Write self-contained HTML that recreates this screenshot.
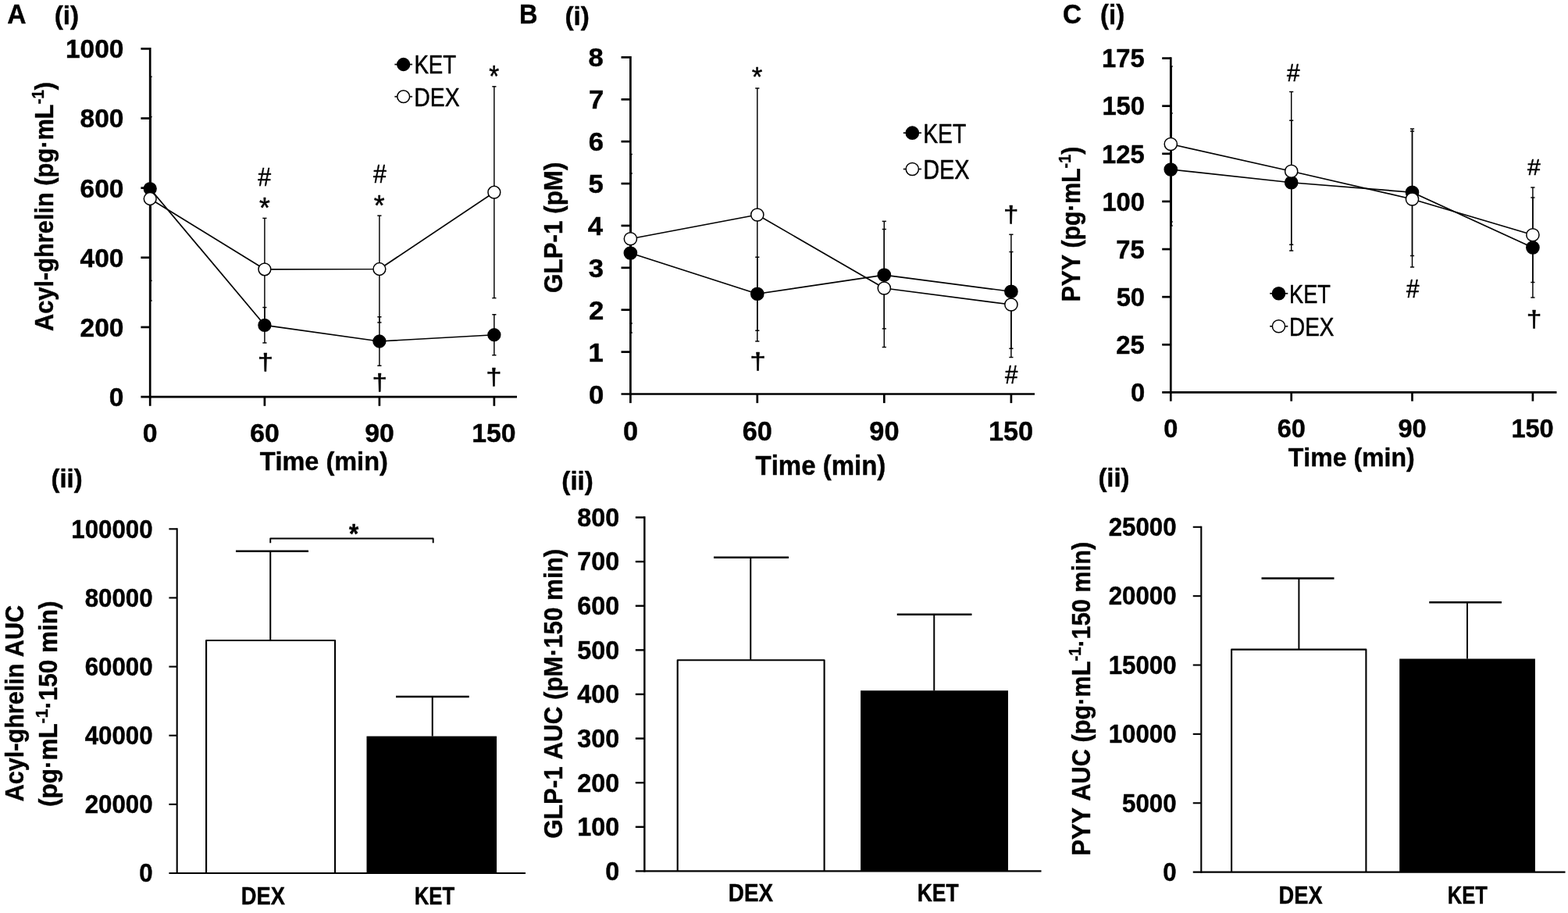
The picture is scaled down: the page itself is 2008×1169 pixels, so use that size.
<!DOCTYPE html>
<html lang="en">
<head>
<meta charset="utf-8">
<title>Figure: Acyl-ghrelin, GLP-1 and PYY responses (KET vs DEX)</title>
<style>
html,body{margin:0;padding:0;background:#fff;}
body{width:2008px;height:1169px;overflow:hidden;}
svg{display:block;}
svg text{font-family:"Liberation Sans",sans-serif;fill:#000;font-kerning:none;white-space:pre;}
svg text.b{font-weight:700;stroke:#000;stroke-width:0.44px;stroke-linejoin:round;}
svg text.r{font-weight:400;stroke:#000;stroke-width:0.5px;stroke-linejoin:round;}
svg path,svg circle,svg rect{stroke:#000;}
</style>
</head>
<body>
<svg role="img" aria-label="Acyl-ghrelin, GLP-1 and PYY time courses and AUC for KET and DEX" width="2008" height="1169" viewBox="0 0 2008 1169">
<rect x="0" y="0" width="2008" height="1169" fill="#fff" style="stroke:none"/>
<g>
<text class="b" font-size="34.75" transform="matrix(0.9682 0 0 1 9.28 29.88)">A</text>
<text class="b" font-size="34.39" transform="matrix(0.9457 0 0 1 664.88 29.88)">B</text>
<text class="b" font-size="35.04" transform="matrix(0.9507 0 0 1 1360.89 30.44)">C</text>
<text class="b" font-size="33.91" transform="matrix(0.9804 0 0 1 69.76 30.54)">(i)</text>
<text class="b" font-size="33.97" transform="matrix(0.9789 0 0 1 723.46 32.23)">(i)</text>
<text class="b" font-size="34.23" transform="matrix(0.9645 0 0 1 1409.07 30.78)">(i)</text>
<text class="b" font-size="33.64" transform="matrix(0.9741 0 0 1 65.58 624.1)">(ii)</text>
<text class="b" font-size="33.86" transform="matrix(0.9784 0 0 1 719.37 626.75)">(ii)</text>
<text class="b" font-size="33.91" transform="matrix(0.9691 0 0 1 1406.38 622.94)">(ii)</text>
</g>
<g>
<path d="M193 98.2L193 385" stroke-width="1.45"/>
<path d="M191.3 98.2L194.7 98.2" stroke-width="1.45"/>
<path d="M191.3 385L194.7 385" stroke-width="1.45"/>
<path d="M338.9 393.6L338.9 439" stroke-width="1.45"/>
<path d="M336.3 393.6L341.5 393.6" stroke-width="1.45"/>
<path d="M336.3 439L341.5 439" stroke-width="1.45"/>
<path d="M485.9 405.75L485.9 468.25" stroke-width="1.45"/>
<path d="M483.3 405.75L488.5 405.75" stroke-width="1.45"/>
<path d="M483.3 468.25L488.5 468.25" stroke-width="1.45"/>
<path d="M632.85 402.75L632.85 454.75" stroke-width="1.45"/>
<path d="M630.25 402.75L635.45 402.75" stroke-width="1.45"/>
<path d="M630.25 454.75L635.45 454.75" stroke-width="1.45"/>
<path d="M193 149.6L193 359.4" stroke-width="1.45"/>
<path d="M191.3 149.6L194.7 149.6" stroke-width="1.45"/>
<path d="M191.3 359.4L194.7 359.4" stroke-width="1.45"/>
<path d="M338.9 279.4L338.9 410.2" stroke-width="1.45"/>
<path d="M336.3 279.4L341.5 279.4" stroke-width="1.45"/>
<path d="M336.3 410.2L341.5 410.2" stroke-width="1.45"/>
<path d="M485.9 276.1L485.9 412.9" stroke-width="1.45"/>
<path d="M483.3 276.1L488.5 276.1" stroke-width="1.45"/>
<path d="M483.3 412.9L488.5 412.9" stroke-width="1.45"/>
<path d="M632.85 110.8L632.85 381.6" stroke-width="1.45"/>
<path d="M630.25 110.8L635.45 110.8" stroke-width="1.45"/>
<path d="M630.25 381.6L635.45 381.6" stroke-width="1.45"/>
<path d="M192.2 61.05L192.2 509.4" stroke-width="2.7"/>
<path d="M180.4 62.4L192.2 62.4" stroke-width="2.7"/>
<path d="M180.4 151.53L192.2 151.53" stroke-width="2.7"/>
<path d="M180.4 240.66L192.2 240.66" stroke-width="2.7"/>
<path d="M180.4 329.79L192.2 329.79" stroke-width="2.7"/>
<path d="M180.4 418.92L192.2 418.92" stroke-width="2.7"/>
<path d="M180.4 508.05L662 508.05" stroke-width="2.7"/>
<path d="M192.2 508.05L192.2 519.8" stroke-width="2.7"/>
<path d="M338.9 508.05L338.9 519.8" stroke-width="2.7"/>
<path d="M485.9 508.05L485.9 519.8" stroke-width="2.7"/>
<path d="M632.85 508.05L632.85 519.8" stroke-width="2.7"/>
<path d="M192.2 241.6L338.9 416.3L485.9 437L632.85 428.75" stroke-width="1.7" fill="none" stroke-linejoin="round"/>
<circle cx="192.2" cy="241.6" r="7.9" fill="#000" stroke-width="1.5"/>
<circle cx="338.9" cy="416.3" r="7.9" fill="#000" stroke-width="1.5"/>
<circle cx="485.9" cy="437" r="7.9" fill="#000" stroke-width="1.5"/>
<circle cx="632.85" cy="428.75" r="7.9" fill="#000" stroke-width="1.5"/>
<path d="M192.2 254.5L338.9 344.8L485.9 344.5L632.85 246.2" stroke-width="1.7" fill="none" stroke-linejoin="round"/>
<circle cx="192.2" cy="254.5" r="7.9" fill="#fff" stroke-width="1.5"/>
<circle cx="338.9" cy="344.8" r="7.9" fill="#fff" stroke-width="1.5"/>
<circle cx="485.9" cy="344.5" r="7.9" fill="#fff" stroke-width="1.5"/>
<circle cx="632.85" cy="246.2" r="7.9" fill="#fff" stroke-width="1.5"/>
</g>
<g>
<path d="M505.4 82.5L528.1 82.5" stroke-width="1.7"/>
<circle cx="516.7" cy="82.5" r="7.9" fill="#000" stroke-width="1.5"/>
<path d="M505.4 123.7L528.1 123.7" stroke-width="1.7"/>
<circle cx="516.7" cy="123.7" r="7.9" fill="#fff" stroke-width="1.5"/>
<text class="r" font-size="33.43" transform="matrix(0.8281 0 0 1 530.39 94.15)">KET</text>
<text class="r" font-size="34.01" transform="matrix(0.833 0 0 1 530.33 135.65)">DEX</text>
</g>
<g>
<text class="b" font-size="33.84" transform="matrix(0.9902 0 0 1 83.91 74.35)">1000</text>
<text class="b" font-size="33.84" transform="matrix(0.9902 0 0 1 102.54 163.48)">800</text>
<text class="b" font-size="33.84" transform="matrix(0.9902 0 0 1 102.54 252.61)">600</text>
<text class="b" font-size="33.84" transform="matrix(0.9902 0 0 1 102.54 341.74)">400</text>
<text class="b" font-size="33.84" transform="matrix(0.9902 0 0 1 102.54 430.87)">200</text>
<text class="b" font-size="33.84" transform="matrix(0.9902 0 0 1 139.82 520)">0</text>
</g>
<g>
<text class="b" font-size="33.84" transform="matrix(0.9984 0 0 1 182.83 566.25)">0</text>
<text class="b" font-size="33.84" transform="matrix(0.9984 0 0 1 320.18 566.25)">60</text>
<text class="b" font-size="33.84" transform="matrix(0.9984 0 0 1 467.22 566.25)">90</text>
<text class="b" font-size="33.84" transform="matrix(0.9984 0 0 1 604.29 566.25)">150</text>
</g>
<text class="b" font-size="33.49" transform="matrix(0 -0.9194 1 0 68.38 424.06)">Acyl-ghrelin (pg·mL<tspan font-size="22.1" dy="-12.05">-1</tspan><tspan dy="12.05">)</tspan></text>
<text class="b" font-size="34.07" transform="matrix(0.9536 0 0 1 332.64 602.41)">Time (min)</text>
<g>
<text class="r" font-size="33.77" transform="matrix(0.8963 0 0 1 330.19 238.05)">#</text>
<text class="r" font-size="33.62" transform="matrix(0.9001 0 0 1 478.09 234.15)">#</text>
<text class="r" font-size="36.17" transform="matrix(0.9829 0 0 1 331.97 278.74)">*</text>
<text class="r" font-size="37.6" transform="matrix(0.947 0 0 1 478.76 275.92)">*</text>
<text class="r" font-size="38.17" transform="matrix(0.8697 0 0 1 626.18 111.01)">*</text>
<text class="r" font-size="29.67" transform="matrix(1.2291 0 0 1 329.85 473.75)">†</text>
<text class="r" font-size="30.3" transform="matrix(1.1517 0 0 1 476.44 499.51)">†</text>
<text class="r" font-size="30.18" transform="matrix(1.2093 0 0 1 622.34 492.62)">†</text>
</g>
<g>
<path d="M808.2 222L808.2 426" stroke-width="1.45"/>
<path d="M806.5 222L809.9 222" stroke-width="1.45"/>
<path d="M806.5 426L809.9 426" stroke-width="1.45"/>
<path d="M969.8 329.25L969.8 423.25" stroke-width="1.45"/>
<path d="M967.2 329.25L972.4 329.25" stroke-width="1.45"/>
<path d="M967.2 423.25L972.4 423.25" stroke-width="1.45"/>
<path d="M1132.3 283.35L1132.3 420.85" stroke-width="1.45"/>
<path d="M1129.7 283.35L1134.9 283.35" stroke-width="1.45"/>
<path d="M1129.7 420.85L1134.9 420.85" stroke-width="1.45"/>
<path d="M1294.9 300.25L1294.9 446.25" stroke-width="1.45"/>
<path d="M1292.3 300.25L1297.5 300.25" stroke-width="1.45"/>
<path d="M1292.3 446.25L1297.5 446.25" stroke-width="1.45"/>
<path d="M808.2 197.5L808.2 414" stroke-width="1.45"/>
<path d="M806.5 197.5L809.9 197.5" stroke-width="1.45"/>
<path d="M806.5 414L809.9 414" stroke-width="1.45"/>
<path d="M969.8 113L969.8 437" stroke-width="1.45"/>
<path d="M967.2 113L972.4 113" stroke-width="1.45"/>
<path d="M967.2 437L972.4 437" stroke-width="1.45"/>
<path d="M1132.3 293.5L1132.3 444.5" stroke-width="1.45"/>
<path d="M1129.7 293.5L1134.9 293.5" stroke-width="1.45"/>
<path d="M1129.7 444.5L1134.9 444.5" stroke-width="1.45"/>
<path d="M1294.9 322.5L1294.9 457.5" stroke-width="1.45"/>
<path d="M1292.3 322.5L1297.5 322.5" stroke-width="1.45"/>
<path d="M1292.3 457.5L1297.5 457.5" stroke-width="1.45"/>
<path d="M807.4 72.05L807.4 505.85" stroke-width="2.7"/>
<path d="M795.5 73.4L807.4 73.4" stroke-width="2.7"/>
<path d="M795.5 127.29L807.4 127.29" stroke-width="2.7"/>
<path d="M795.5 181.18L807.4 181.18" stroke-width="2.7"/>
<path d="M795.5 235.06L807.4 235.06" stroke-width="2.7"/>
<path d="M795.5 288.95L807.4 288.95" stroke-width="2.7"/>
<path d="M795.5 342.84L807.4 342.84" stroke-width="2.7"/>
<path d="M795.5 396.73L807.4 396.73" stroke-width="2.7"/>
<path d="M795.5 450.61L807.4 450.61" stroke-width="2.7"/>
<path d="M795.5 504.5L1325 504.5" stroke-width="2.7"/>
<path d="M807.4 504.5L807.4 516.1" stroke-width="2.7"/>
<path d="M969.8 504.5L969.8 516.1" stroke-width="2.7"/>
<path d="M1132.3 504.5L1132.3 516.1" stroke-width="2.7"/>
<path d="M1294.9 504.5L1294.9 516.1" stroke-width="2.7"/>
<path d="M807.4 324L969.8 376.25L1132.3 352.1L1294.9 373.25" stroke-width="1.7" fill="none" stroke-linejoin="round"/>
<circle cx="807.4" cy="324" r="8.1" fill="#000" stroke-width="1.5"/>
<circle cx="969.8" cy="376.25" r="8.1" fill="#000" stroke-width="1.5"/>
<circle cx="1132.3" cy="352.1" r="8.1" fill="#000" stroke-width="1.5"/>
<circle cx="1294.9" cy="373.25" r="8.1" fill="#000" stroke-width="1.5"/>
<path d="M807.4 305.75L969.8 275L1132.3 369L1294.9 390" stroke-width="1.7" fill="none" stroke-linejoin="round"/>
<circle cx="807.4" cy="305.75" r="8.1" fill="#fff" stroke-width="1.5"/>
<circle cx="969.8" cy="275" r="8.1" fill="#fff" stroke-width="1.5"/>
<circle cx="1132.3" cy="369" r="8.1" fill="#fff" stroke-width="1.5"/>
<circle cx="1294.9" cy="390" r="8.1" fill="#fff" stroke-width="1.5"/>
</g>
<g>
<path d="M1156.8 170.2L1180 170.2" stroke-width="1.7"/>
<circle cx="1168.3" cy="170.2" r="8.1" fill="#000" stroke-width="1.5"/>
<path d="M1156.8 216.5L1180 216.5" stroke-width="1.7"/>
<circle cx="1168.3" cy="216.5" r="8.1" fill="#fff" stroke-width="1.5"/>
<text class="r" font-size="34.16" transform="matrix(0.8288 0 0 1 1182.18 182.75)">KET</text>
<text class="r" font-size="34.59" transform="matrix(0.8345 0 0 1 1182.14 229.05)">DEX</text>
</g>
<g>
<text class="b" font-size="33.84" transform="matrix(1.0265 0 0 1 753.62 85.45)">8</text>
<text class="b" font-size="33.84" transform="matrix(1.0265 0 0 1 754.08 139.33)">7</text>
<text class="b" font-size="33.84" transform="matrix(1.0265 0 0 1 753.81 193.22)">6</text>
<text class="b" font-size="33.84" transform="matrix(1.0265 0 0 1 753.52 246.94)">5</text>
<text class="b" font-size="33.84" transform="matrix(1.0265 0 0 1 752.74 300.99)">4</text>
<text class="b" font-size="33.84" transform="matrix(1.0265 0 0 1 753.81 354.86)">3</text>
<text class="b" font-size="33.84" transform="matrix(1.0265 0 0 1 753.95 408.94)">2</text>
<text class="b" font-size="33.84" transform="matrix(1.0265 0 0 1 753.52 462.65)">1</text>
<text class="b" font-size="33.84" transform="matrix(1.0265 0 0 1 753.98 516.55)">0</text>
</g>
<g>
<text class="b" font-size="35.82" transform="matrix(0.9573 0 0 1 797.89 564.33)">0</text>
<text class="b" font-size="35.82" transform="matrix(0.9573 0 0 1 950.8 564.33)">60</text>
<text class="b" font-size="35.82" transform="matrix(0.9573 0 0 1 1113.34 564.33)">90</text>
<text class="b" font-size="35.82" transform="matrix(0.9573 0 0 1 1265.92 564.33)">150</text>
</g>
<text class="b" font-size="33.64" transform="matrix(0 -0.9339 1 0 720 374.98)">GLP-1 (pM)</text>
<text class="b" font-size="34.82" transform="matrix(0.948 0 0 1 967.54 607.65)">Time (min)</text>
<g>
<text class="r" font-size="35.61" transform="matrix(0.9829 0 0 1 962.68 109.75)">*</text>
<text class="r" font-size="29.67" transform="matrix(1.2483 0 0 1 960.32 472.75)">†</text>
<text class="r" font-size="30.18" transform="matrix(1.1564 0 0 1 1284.94 285.22)">†</text>
<text class="r" font-size="32.53" transform="matrix(0.9023 0 0 1 1287.1 490.5)">#</text>
</g>
<g>
<path d="M1500.1 145L1500.1 289" stroke-width="1.45"/>
<path d="M1498.4 145L1501.8 145" stroke-width="1.45"/>
<path d="M1498.4 289L1501.8 289" stroke-width="1.45"/>
<path d="M1653.7 154.25L1653.7 313.25" stroke-width="1.45"/>
<path d="M1651.1 154.25L1656.3 154.25" stroke-width="1.45"/>
<path d="M1651.1 313.25L1656.3 313.25" stroke-width="1.45"/>
<path d="M1808.5 165L1808.5 327.5" stroke-width="1.45"/>
<path d="M1805.9 165L1811.1 165" stroke-width="1.45"/>
<path d="M1805.9 327.5L1811.1 327.5" stroke-width="1.45"/>
<path d="M1962.9 253L1962.9 381" stroke-width="1.45"/>
<path d="M1960.3 253L1965.5 253" stroke-width="1.45"/>
<path d="M1960.3 381L1965.5 381" stroke-width="1.45"/>
<path d="M1500.1 85L1500.1 284" stroke-width="1.45"/>
<path d="M1498.4 85L1501.8 85" stroke-width="1.45"/>
<path d="M1498.4 284L1501.8 284" stroke-width="1.45"/>
<path d="M1653.7 117.5L1653.7 321" stroke-width="1.45"/>
<path d="M1651.1 117.5L1656.3 117.5" stroke-width="1.45"/>
<path d="M1651.1 321L1656.3 321" stroke-width="1.45"/>
<path d="M1808.5 168L1808.5 342" stroke-width="1.45"/>
<path d="M1805.9 168L1811.1 168" stroke-width="1.45"/>
<path d="M1805.9 342L1811.1 342" stroke-width="1.45"/>
<path d="M1962.9 240L1962.9 361.5" stroke-width="1.45"/>
<path d="M1960.3 240L1965.5 240" stroke-width="1.45"/>
<path d="M1960.3 361.5L1965.5 361.5" stroke-width="1.45"/>
<path d="M1499.3 73.25L1499.3 503.75" stroke-width="2.7"/>
<path d="M1488.2 74.6L1499.3 74.6" stroke-width="2.7"/>
<path d="M1488.2 135.71L1499.3 135.71" stroke-width="2.7"/>
<path d="M1488.2 196.83L1499.3 196.83" stroke-width="2.7"/>
<path d="M1488.2 257.94L1499.3 257.94" stroke-width="2.7"/>
<path d="M1488.2 319.06L1499.3 319.06" stroke-width="2.7"/>
<path d="M1488.2 380.17L1499.3 380.17" stroke-width="2.7"/>
<path d="M1488.2 441.29L1499.3 441.29" stroke-width="2.7"/>
<path d="M1488.2 502.4L1993.5 502.4" stroke-width="2.7"/>
<path d="M1499.3 502.4L1499.3 513.7" stroke-width="2.7"/>
<path d="M1653.7 502.4L1653.7 513.7" stroke-width="2.7"/>
<path d="M1808.5 502.4L1808.5 513.7" stroke-width="2.7"/>
<path d="M1962.9 502.4L1962.9 513.7" stroke-width="2.7"/>
<path d="M1499.3 217L1653.7 233.75L1808.5 246.25L1962.9 317" stroke-width="1.7" fill="none" stroke-linejoin="round"/>
<circle cx="1499.3" cy="217" r="8.1" fill="#000" stroke-width="1.5"/>
<circle cx="1653.7" cy="233.75" r="8.1" fill="#000" stroke-width="1.5"/>
<circle cx="1808.5" cy="246.25" r="8.1" fill="#000" stroke-width="1.5"/>
<circle cx="1962.9" cy="317" r="8.1" fill="#000" stroke-width="1.5"/>
<path d="M1499.3 184.5L1653.7 219.25L1808.5 255L1962.9 300.75" stroke-width="1.7" fill="none" stroke-linejoin="round"/>
<circle cx="1499.3" cy="184.5" r="8.1" fill="#fff" stroke-width="1.5"/>
<circle cx="1653.7" cy="219.25" r="8.1" fill="#fff" stroke-width="1.5"/>
<circle cx="1808.5" cy="255" r="8.1" fill="#fff" stroke-width="1.5"/>
<circle cx="1962.9" cy="300.75" r="8.1" fill="#fff" stroke-width="1.5"/>
</g>
<g>
<path d="M1626.2 375.75L1649.3 375.75" stroke-width="1.7"/>
<circle cx="1637.5" cy="375.75" r="8.1" fill="#000" stroke-width="1.5"/>
<path d="M1626.2 417.75L1649.3 417.75" stroke-width="1.7"/>
<circle cx="1637.5" cy="417.75" r="8.1" fill="#fff" stroke-width="1.5"/>
<text class="r" font-size="33.43" transform="matrix(0.8144 0 0 1 1651.07 388.15)">KET</text>
<text class="r" font-size="33.43" transform="matrix(0.8344 0 0 1 1651.02 429.75)">DEX</text>
</g>
<g>
<text class="b" font-size="33.62" transform="matrix(0.976 0 0 1 1410.95 86.1)">175</text>
<text class="b" font-size="33.62" transform="matrix(0.976 0 0 1 1411.38 147.39)">150</text>
<text class="b" font-size="33.62" transform="matrix(0.976 0 0 1 1410.95 208.5)">125</text>
<text class="b" font-size="33.62" transform="matrix(0.976 0 0 1 1411.38 269.62)">100</text>
<text class="b" font-size="33.62" transform="matrix(0.976 0 0 1 1429.2 330.56)">75</text>
<text class="b" font-size="33.62" transform="matrix(0.976 0 0 1 1429.63 391.85)">50</text>
<text class="b" font-size="33.62" transform="matrix(0.976 0 0 1 1429.2 452.96)">25</text>
<text class="b" font-size="33.62" transform="matrix(0.976 0 0 1 1447.88 514.07)">0</text>
</g>
<g>
<text class="b" font-size="33.98" transform="matrix(0.9578 0 0 1 1490.27 559.85)">0</text>
<text class="b" font-size="33.98" transform="matrix(0.9578 0 0 1 1635.67 559.85)">60</text>
<text class="b" font-size="33.98" transform="matrix(0.9578 0 0 1 1790.5 559.85)">90</text>
<text class="b" font-size="33.98" transform="matrix(0.9578 0 0 1 1935.39 559.85)">150</text>
</g>
<text class="b" font-size="33.49" transform="matrix(0 -0.9011 1 0 1383.38 386.32)">PYY (pg·mL<tspan font-size="22.1" dy="-12.05">-1</tspan><tspan dy="12.05">)</tspan></text>
<text class="b" font-size="33.64" transform="matrix(0.9527 0 0 1 1649.75 597)">Time (min)</text>
<g>
<text class="r" font-size="31.06" transform="matrix(0.9578 0 0 1 1648.11 104)">#</text>
<text class="r" font-size="30.33" transform="matrix(0.9948 0 0 1 1956.12 223.5)">#</text>
<text class="r" font-size="32.74" transform="matrix(0.9018 0 0 1 1801 381.25)">#</text>
<text class="r" font-size="28.73" transform="matrix(1.2284 0 0 1 1954.68 419.31)">†</text>
</g>
<g>
<path d="M346.25 705.75L346.25 819.3" stroke-width="2"/>
<path d="M302 705.75L395 705.75" stroke-width="2.5"/>
<path d="M553.75 892L553.75 942.65" stroke-width="2"/>
<path d="M507 892L600.75 892" stroke-width="2.5"/>
<path d="M264.1 1118L264.1 820L429.05 820L429.05 1118" fill="#fff" stroke-width="2.1" stroke-linejoin="round"/>
<rect x="469.5" y="942.65" width="166.55" height="175.35" fill="#000" stroke-width="0"/>
<path d="M226.7 676.25L226.7 1119.05" stroke-width="2.1"/>
<path d="M216.4 677.3L226.7 677.3" stroke-width="2.1"/>
<path d="M216.4 765.44L226.7 765.44" stroke-width="2.1"/>
<path d="M216.4 853.58L226.7 853.58" stroke-width="2.1"/>
<path d="M216.4 941.72L226.7 941.72" stroke-width="2.1"/>
<path d="M216.4 1029.86L226.7 1029.86" stroke-width="2.1"/>
<path d="M216.4 1118L673 1118" stroke-width="2.1"/>
</g>
<path d="M346.25 695.2L346.25 689.5L554.7 689.5L554.7 695.2" stroke-width="1.9" fill="none" stroke-linejoin="round"/>
<text class="b" font-size="34.29" transform="matrix(0.9156 0 0 1 446.91 694.81)">*</text>
<g>
<text class="b" font-size="32.57" transform="matrix(0.9609 0 0 1 91.24 688.51)">100000</text>
<text class="b" font-size="32.57" transform="matrix(0.9609 0 0 1 108.65 776.65)">80000</text>
<text class="b" font-size="32.57" transform="matrix(0.9609 0 0 1 108.65 864.79)">60000</text>
<text class="b" font-size="32.57" transform="matrix(0.9609 0 0 1 108.65 952.93)">40000</text>
<text class="b" font-size="32.57" transform="matrix(0.9609 0 0 1 108.65 1041.07)">20000</text>
<text class="b" font-size="32.57" transform="matrix(0.9609 0 0 1 178.27 1129.21)">0</text>
</g>
<g>
<text class="b" font-size="31.48" transform="matrix(0.8664 0 0 1 308.87 1157.68)">DEX</text>
<text class="b" font-size="31.48" transform="matrix(0.8185 0 0 1 530.76 1157.68)">KET</text>
</g>
<text class="b" font-size="33.38" transform="matrix(0 -0.9155 1 0 29.81 1026.26)">Acyl-ghrelin AUC</text>
<text class="b" font-size="33.38" transform="matrix(0 -0.9438 1 0 72.91 1032.96)">(pg·mL<tspan font-size="22.03" dy="-12.02">-1</tspan><tspan dy="12.02">·150 min)</tspan></text>
<g>
<path d="M961.25 713.75L961.25 844.6" stroke-width="2"/>
<path d="M914 713.75L1010 713.75" stroke-width="2.5"/>
<path d="M1196.25 786.75L1196.25 884.2" stroke-width="2"/>
<path d="M1148.75 786.75L1244.5 786.75" stroke-width="2.5"/>
<path d="M867.7 1115.4L867.7 845.3L1055.6 845.3L1055.6 1115.4" fill="#fff" stroke-width="2.1" stroke-linejoin="round"/>
<rect x="1102.1" y="884.2" width="188.9" height="231.2" fill="#000" stroke-width="0"/>
<path d="M825.35 661.3L825.35 1116.6" stroke-width="2.4"/>
<path d="M813.8 662.5L825.35 662.5" stroke-width="2.4"/>
<path d="M813.8 719.11L825.35 719.11" stroke-width="2.4"/>
<path d="M813.8 775.73L825.35 775.73" stroke-width="2.4"/>
<path d="M813.8 832.34L825.35 832.34" stroke-width="2.4"/>
<path d="M813.8 888.95L825.35 888.95" stroke-width="2.4"/>
<path d="M813.8 945.56L825.35 945.56" stroke-width="2.4"/>
<path d="M813.8 1002.18L825.35 1002.18" stroke-width="2.4"/>
<path d="M813.8 1058.79L825.35 1058.79" stroke-width="2.4"/>
<path d="M813.8 1115.4L1333.5 1115.4" stroke-width="2.4"/>
</g>
<g>
<text class="b" font-size="32.64" transform="matrix(0.99 0 0 1 739.29 673.84)">800</text>
<text class="b" font-size="32.64" transform="matrix(0.99 0 0 1 739.29 730.45)">700</text>
<text class="b" font-size="32.64" transform="matrix(0.99 0 0 1 739.29 787.06)">600</text>
<text class="b" font-size="32.64" transform="matrix(0.99 0 0 1 739.29 843.67)">500</text>
<text class="b" font-size="32.64" transform="matrix(0.99 0 0 1 739.29 900.29)">400</text>
<text class="b" font-size="32.64" transform="matrix(0.99 0 0 1 739.29 956.87)">300</text>
<text class="b" font-size="32.64" transform="matrix(0.99 0 0 1 739.29 1013.51)">200</text>
<text class="b" font-size="32.64" transform="matrix(0.99 0 0 1 739.29 1070.12)">100</text>
<text class="b" font-size="32.64" transform="matrix(0.99 0 0 1 775.24 1126.74)">0</text>
</g>
<g>
<text class="b" font-size="31.34" transform="matrix(0.888 0 0 1 932.83 1153.78)">DEX</text>
<text class="b" font-size="31.34" transform="matrix(0.8446 0 0 1 1174.67 1153.78)">KET</text>
</g>
<text class="b" font-size="33.86" transform="matrix(0 -0.9258 1 0 719.75 1073.58)">GLP-1 AUC (pM·150 min)</text>
<g>
<path d="M1663.4 740.6L1663.4 830.95" stroke-width="2"/>
<path d="M1615.5 740.6L1708.5 740.6" stroke-width="2.5"/>
<path d="M1879 771.25L1879 843.5" stroke-width="2"/>
<path d="M1830.25 771.25L1923 771.25" stroke-width="2.5"/>
<path d="M1577.1 1116.6L1577.1 831.65L1749.4 831.65L1749.4 1116.6" fill="#fff" stroke-width="2.1" stroke-linejoin="round"/>
<rect x="1792.2" y="843.5" width="173.7" height="273.1" fill="#000" stroke-width="0"/>
<path d="M1538.3 673.75L1538.3 1117.65" stroke-width="2.1"/>
<path d="M1527.75 674.8L1538.3 674.8" stroke-width="2.1"/>
<path d="M1527.75 763.16L1538.3 763.16" stroke-width="2.1"/>
<path d="M1527.75 851.52L1538.3 851.52" stroke-width="2.1"/>
<path d="M1527.75 939.88L1538.3 939.88" stroke-width="2.1"/>
<path d="M1527.75 1028.24L1538.3 1028.24" stroke-width="2.1"/>
<path d="M1527.75 1116.6L2004.5 1116.6" stroke-width="2.1"/>
</g>
<g>
<text class="b" font-size="32.36" transform="matrix(0.9662 0 0 1 1419.63 686.09)">25000</text>
<text class="b" font-size="32.36" transform="matrix(0.9662 0 0 1 1419.63 774.45)">20000</text>
<text class="b" font-size="32.36" transform="matrix(0.9662 0 0 1 1419.63 862.81)">15000</text>
<text class="b" font-size="32.36" transform="matrix(0.9662 0 0 1 1419.63 951.17)">10000</text>
<text class="b" font-size="32.36" transform="matrix(0.9662 0 0 1 1437.02 1039.53)">5000</text>
<text class="b" font-size="32.36" transform="matrix(0.9662 0 0 1 1489.18 1127.89)">0</text>
</g>
<g>
<text class="b" font-size="30.61" transform="matrix(0.8909 0 0 1 1637.57 1157.48)">DEX</text>
<text class="b" font-size="30.61" transform="matrix(0.8349 0 0 1 1853.77 1157.48)">KET</text>
</g>
<text class="b" font-size="33.38" transform="matrix(0 -0.9197 1 0 1396.21 1095.45)">PYY AUC (pg·mL<tspan font-size="22.03" dy="-12.02">-1</tspan><tspan dy="12.02">·150 min)</tspan></text>
</svg>
</body>
</html>
